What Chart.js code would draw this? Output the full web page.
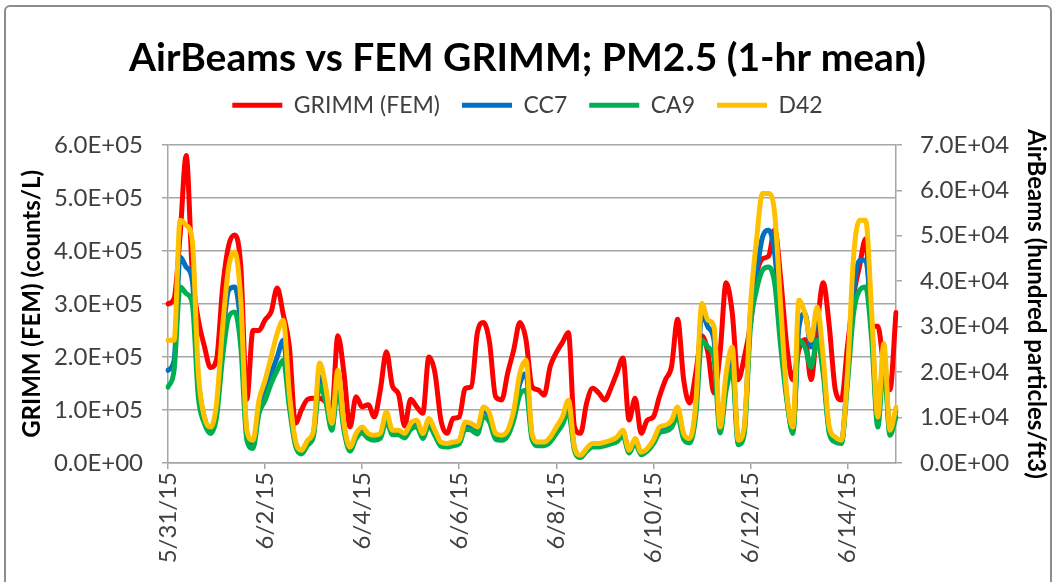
<!DOCTYPE html>
<html>
<head>
<meta charset="utf-8">
<script src="https://cdn.jsdelivr.net/npm/chart.js@4.4.0/dist/chart.umd.min.js"></script>
<style>
  html, body { margin: 0; padding: 0; background: #fff; overflow: hidden; }
  #wrap { position: relative; width: 1053px; height: 582px; }
  #frame { position: absolute; left: 4px; top: 5px; width: 1044px; height: 600px;
           border: 2px solid #8c8c8c; border-radius: 6px; pointer-events: none; }
</style>
</head>
<body>
<div id="wrap">
  <canvas id="myChart" width="1053" height="582"></canvas>
  <div id="frame"></div>
</div>
<script>
// one point every 3 hours, 5/31/15 00:00 .. 6/15/15 00:00
const dayLabels = ['5/31/15','6/1/15','6/2/15','6/3/15','6/4/15','6/5/15','6/6/15','6/7/15',
                   '6/8/15','6/9/15','6/10/15','6/11/15','6/12/15','6/13/15','6/14/15','6/15/15'];
const tickDays = ['5/31/15','6/2/15','6/4/15','6/6/15','6/8/15','6/10/15','6/12/15','6/14/15'];
const hoursPerPoint = 3;

// GRIMM (FEM), counts/L  (left axis)
const grimm = [
  3.0e5, 3.1e5, 4.3e5, 5.8e5, 3.6e5, 2.7e5, 2.2e5, 1.8e5, 1.95e5, 3.3e5, 4.1e5, 4.3e5, 3.7e5, 1.2e5, 2.5e5, 2.5e5,
  2.7e5, 2.85e5, 3.3e5, 2.8e5, 2.2e5, 0.75e5, 1.0e5, 1.2e5, 1.22e5, 1.22e5, 1.15e5, 1.0e5, 2.4e5, 1.7e5, 0.68e5, 1.25e5,
  1.06e5, 1.1e5, 0.87e5, 1.38e5, 2.1e5, 1.45e5, 1.3e5, 0.7e5, 1.2e5, 1.06e5, 0.94e5, 2.0e5, 1.7e5, 0.8e5, 0.56e5, 0.84e5,
  0.87e5, 1.41e5, 1.44e5, 2.46e5, 2.65e5, 2.27e5, 1.25e5, 1.19e5, 1.7e5, 2.14e5, 2.65e5, 2.33e5, 1.44e5, 1.38e5, 1.28e5, 1.82e5,
  2.08e5, 2.27e5, 2.46e5, 0.68e5, 0.56e5, 1.13e5, 1.41e5, 1.32e5, 1.19e5, 1.41e5, 1.7e5, 1.98e5, 0.81e5, 1.22e5, 0.56e5, 0.81e5,
  0.87e5, 1.25e5, 1.57e5, 1.82e5, 2.71e5, 1.57e5, 1.13e5, 1.7e5, 2.4e5, 2.08e5, 1.32e5, 2.08e5, 3.4e5, 2.84e5, 1.57e5, 2.0e5,
  2.6e5, 3.53e5, 3.85e5, 3.9e5, 4.4e5, 3.47e5, 2.2e5, 1.57e5, 2.14e5, 2.33e5, 1.57e5, 2.58e5, 3.4e5, 2.58e5, 1.38e5, 1.19e5,
  2.2e5, 3.15e5, 3.72e5, 4.23e5, 2.58e5, 2.58e5, 1.82e5, 1.38e5, 2.84e5
];
// AirBeams, hundred particles/ft3  (right axis)
const cc7 = [
  2.04e4, 2.26e4, 4.53e4, 4.31e4, 4.02e4, 1.82e4, 1.0e4, 0.72e4, 1.16e4, 2.7e4, 3.8e4, 3.87e4, 2.99e4, 0.65e4, 0.43e4, 1.23e4,
  1.6e4, 1.97e4, 2.33e4, 2.7e4, 1.38e4, 0.43e4, 0.24e4, 0.46e4, 0.68e4, 1.9e4, 1.5e4, 0.8e4, 1.85e4, 0.8e4, 0.3e4, 0.6e4,
  0.74e4, 0.6e4, 0.58e4, 0.6e4, 1.02e4, 0.7e4, 0.7e4, 0.62e4, 0.84e4, 0.9e4, 0.6e4, 0.92e4, 0.68e4, 0.42e4, 0.4e4, 0.44e4,
  0.48e4, 0.84e4, 0.82e4, 0.74e4, 1.15e4, 1.02e4, 0.6e4, 0.58e4, 0.68e4, 1.08e4, 1.75e4, 1.97e4, 0.6e4, 0.44e4, 0.44e4, 0.54e4,
  0.74e4, 0.95e4, 1.28e4, 0.32e4, 0.15e4, 0.3e4, 0.4e4, 0.4e4, 0.44e4, 0.47e4, 0.54e4, 0.68e4, 0.26e4, 0.5e4, 0.22e4, 0.3e4,
  0.48e4, 0.74e4, 0.78e4, 0.88e4, 1.15e4, 0.6e4, 0.5e4, 1.2e4, 3.29e4, 2.99e4, 2.7e4, 0.74e4, 1.8e4, 2.3e4, 0.46e4, 0.75e4,
  3.29e4, 4.17e4, 4.97e4, 5.12e4, 4.61e4, 2.99e4, 1.45e4, 0.72e4, 2.99e4, 3.29e4, 2.55e4, 3.29e4, 2.11e4, 0.72e4, 0.54e4, 0.46e4,
  1.97e4, 3.73e4, 4.46e4, 4.46e4, 2.99e4, 0.94e4, 2.41e4, 0.68e4, 1.16e4
];
const ca9 = [
  1.67e4, 2.04e4, 3.87e4, 3.73e4, 3.51e4, 1.45e4, 0.87e4, 0.65e4, 1.01e4, 2.33e4, 3.21e4, 3.32e4, 2.55e4, 0.5e4, 0.32e4, 1.09e4,
  1.38e4, 1.75e4, 2.04e4, 2.26e4, 1.23e4, 0.39e4, 0.2e4, 0.39e4, 0.6e4, 1.7e4, 1.35e4, 0.72e4, 1.65e4, 0.72e4, 0.26e4, 0.54e4,
  0.66e4, 0.54e4, 0.5e4, 0.54e4, 0.92e4, 0.62e4, 0.62e4, 0.55e4, 0.74e4, 0.8e4, 0.54e4, 0.82e4, 0.6e4, 0.37e4, 0.35e4, 0.38e4,
  0.42e4, 0.74e4, 0.72e4, 0.64e4, 1.02e4, 0.9e4, 0.52e4, 0.5e4, 0.6e4, 0.95e4, 1.5e4, 1.6e4, 0.52e4, 0.38e4, 0.38e4, 0.46e4,
  0.65e4, 0.84e4, 1.12e4, 0.28e4, 0.12e4, 0.26e4, 0.35e4, 0.35e4, 0.38e4, 0.42e4, 0.47e4, 0.6e4, 0.22e4, 0.44e4, 0.18e4, 0.26e4,
  0.42e4, 0.66e4, 0.7e4, 0.78e4, 1.02e4, 0.52e4, 0.44e4, 1.05e4, 2.7e4, 2.55e4, 2.3e4, 0.66e4, 1.6e4, 2.05e4, 0.4e4, 0.65e4,
  2.99e4, 3.8e4, 4.24e4, 4.31e4, 3.95e4, 2.55e4, 1.38e4, 0.65e4, 2.7e4, 2.55e4, 2.11e4, 2.7e4, 1.97e4, 0.65e4, 0.46e4, 0.43e4,
  1.75e4, 3.29e4, 3.8e4, 3.87e4, 2.7e4, 0.79e4, 2.19e4, 0.61e4, 1.01e4
];
const d42 = [
  2.7e4, 2.7e4, 5.34e4, 5.23e4, 4.9e4, 1.97e4, 1.01e4, 0.79e4, 1.31e4, 2.99e4, 4.31e4, 4.64e4, 3.58e4, 0.72e4, 0.5e4, 1.38e4,
  1.82e4, 2.33e4, 2.85e4, 3.14e4, 1.53e4, 0.5e4, 0.28e4, 0.5e4, 0.72e4, 2.2e4, 1.67e4, 0.87e4, 2.04e4, 0.87e4, 0.35e4, 0.65e4,
  0.79e4, 0.65e4, 0.61e4, 0.65e4, 1.12e4, 0.72e4, 0.72e4, 0.65e4, 0.87e4, 0.94e4, 0.65e4, 0.98e4, 0.72e4, 0.46e4, 0.43e4, 0.46e4,
  0.5e4, 0.9e4, 0.87e4, 0.79e4, 1.23e4, 1.09e4, 0.65e4, 0.61e4, 0.72e4, 1.16e4, 1.97e4, 2.26e4, 0.65e4, 0.46e4, 0.46e4, 0.57e4,
  0.79e4, 1.01e4, 1.38e4, 0.35e4, 0.17e4, 0.32e4, 0.43e4, 0.43e4, 0.46e4, 0.5e4, 0.57e4, 0.72e4, 0.28e4, 0.54e4, 0.24e4, 0.32e4,
  0.5e4, 0.79e4, 0.83e4, 0.94e4, 1.23e4, 0.65e4, 0.54e4, 1.31e4, 3.51e4, 3.14e4, 3.0e4, 0.79e4, 1.97e4, 2.55e4, 0.5e4, 0.8e4,
  3.43e4, 4.9e4, 5.93e4, 5.93e4, 5.49e4, 3.43e4, 1.53e4, 0.79e4, 3.58e4, 3.29e4, 2.7e4, 3.43e4, 2.33e4, 0.79e4, 0.57e4, 0.5e4,
  1.97e4, 4.53e4, 5.34e4, 5.34e4, 3.29e4, 1.01e4, 2.63e4, 0.72e4, 1.23e4
];

const labels = grimm.map((v, i) => {
  const h = i * hoursPerPoint;
  return dayLabels[Math.floor(h / 24)] + ' ' + String(h % 24).padStart(2, '0') + ':00';
});

const sci = v => {
  const [m, e] = Number(v).toExponential(1).split('e');
  const n = parseInt(e, 10);
  return m + 'E' + (n < 0 ? '-' : '+') + String(Math.abs(n)).padStart(2, '0');
};

const FONT = 'Lato, "Open Sans", sans-serif';
const grey = '#a6a6a6';
const txt = '#404040';

const line = (label, data, color, axis, order) => ({
  label, data, yAxisID: axis, order,
  borderColor: color, backgroundColor: color,
  borderWidth: 5, borderCapStyle: 'round', borderJoinStyle: 'round',
  pointRadius: 0, cubicInterpolationMode: 'monotone', fill: false
});

const ctx = document.getElementById('myChart').getContext('2d');
const myChart = new Chart(ctx, {
  type: 'line',
  data: {
    labels: labels,
    datasets: [
      line('GRIMM (FEM)', grimm, '#ff0000', 'y', 4),
      line('CC7', cc7, '#0070c0', 'y1', 3),
      line('CA9', ca9, '#00b050', 'y1', 2),
      line('D42', d42, '#ffc000', 'y1', 1)
    ]
  },
  options: {
    responsive: false,
    animation: false,
    layout: { padding: { left: 5, right: 3, top: 8, bottom: 0 } },
    plugins: {
      title: {
        display: true,
        text: 'AirBeams vs FEM GRIMM; PM2.5 (1-hr mean)',
        color: '#000',
        font: { family: FONT, size: 39, weight: 'bold' },
        padding: { top: 27, bottom: -10 }
      },
      legend: {
        display: true,
        labels: {
          sort: (a, b) => a.datasetIndex - b.datasetIndex,
          color: txt,
          font: { family: FONT, size: 23 },
          usePointStyle: true,
          pointStyle: 'line',
          pointStyleWidth: 50,
          padding: 22
        }
      },
      // empty block used as the gap between legend and plot
      subtitle: {
        display: true, text: ' ', weight: 500,
        font: { size: 1, lineHeight: 1 },
        padding: { top: 0, bottom: 17 }
      },
      tooltip: { enabled: false }
    },
    scales: {
      x: {
        type: 'category',
        offset: false,
        grid: { drawOnChartArea: false, tickLength: 6, color: grey, lineWidth: 1.5 },
        border: { color: grey, width: 1.5 },
        ticks: {
          autoSkip: false, maxRotation: 90, minRotation: 90, padding: 3,
          color: txt, font: { family: FONT, size: 24 },
          callback: (v, i) => (i % 16 === 0 ? tickDays[i / 16] : null)
        },
        afterFit: s => { s.height = 119; }
      },
      y: {
        position: 'left', min: 0, max: 6e5,
        grid: { color: grey, lineWidth: 1.5, tickLength: 6 },
        border: { color: grey, width: 1.5 },
        ticks: { stepSize: 1e5, padding: 19, color: txt, font: { family: FONT, size: 24 }, callback: sci },
        title: {
          display: true, text: 'GRIMM (FEM) (counts/L)', color: '#000',
          font: { family: FONT, size: 24, weight: 'bold' }, padding: { top: 13, bottom: 0 }
        },
        afterFit: s => { s.width = 163; }
      },
      y1: {
        position: 'right', min: 0, max: 7e4,
        grid: { drawOnChartArea: false, color: grey, lineWidth: 1.5, tickLength: 6 },
        border: { color: grey, width: 1.5 },
        ticks: { stepSize: 1e4, padding: 18, color: txt, font: { family: FONT, size: 24 }, callback: sci },
        title: {
          display: true, text: 'AirBeams (hundred particles/ft3)', color: '#000',
          font: { family: FONT, size: 24, weight: 'bold' }, padding: { top: 0, bottom: 0 }
        },
        afterFit: s => { s.width = 154; }
      }
    }
  }
});
console.log(myChart.chartArea);
</script>
</body>
</html>
